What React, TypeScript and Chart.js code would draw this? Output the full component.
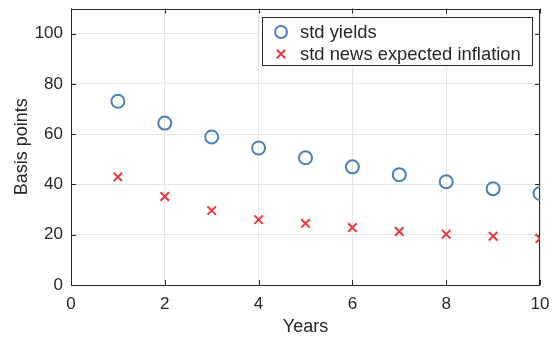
import React, { useEffect, useRef } from 'react';
import { Chart, registerables } from 'chart.js';

Chart.register(...registerables);

const years = [1, 2, 3, 4, 5, 6, 7, 8, 9, 10];
const stdYields = [73.1, 64.4, 58.9, 54.5, 50.6, 47.0, 43.9, 41.1, 38.3, 36.4];
const stdNewsInflation = [43.0, 35.2, 29.6, 26.0, 24.5, 22.9, 21.3, 20.2, 19.4, 18.5];
const xTicks = [0, 2, 4, 6, 8, 10];
const yTicks = [0, 20, 40, 60, 80, 100];
const seriesLabels = ['std yields', 'std news expected inflation'];
const axisLabels = { x: 'Years', y: 'Basis points' };

const FONT = "'Liberation Sans', Arial, Helvetica, sans-serif";
const TEXT = '#262626';
const BLUE = '#4A80B5';
const RED = '#E8383F';

const framePlugin = {
  id: 'frame',
  beforeDatasetsDraw(chart: any) {
    const { ctx, chartArea: a, scales } = chart;
    ctx.save();
    ctx.strokeStyle = TEXT;
    ctx.lineWidth = 1;
    ctx.strokeRect(Math.round(a.left) + 0.5, Math.round(a.top) + 0.5, Math.round(a.right - a.left) - 1, Math.round(a.bottom - a.top) - 1);
    const tl = 5;
    ctx.beginPath();
    xTicks.forEach((v) => {
      const px = Math.round(scales.x.getPixelForValue(v)) + 0.5;
      ctx.moveTo(px, a.bottom);
      ctx.lineTo(px, a.bottom - tl);
      ctx.moveTo(px, a.top);
      ctx.lineTo(px, a.top + tl);
    });
    yTicks.forEach((v) => {
      const py = Math.round(scales.y.getPixelForValue(v)) + 0.5;
      ctx.moveTo(a.left, py);
      ctx.lineTo(a.left + tl, py);
      ctx.moveTo(a.right, py);
      ctx.lineTo(a.right - tl, py);
    });
    ctx.stroke();
    ctx.restore();
  },
};

const legendPlugin = {
  id: 'boxLegend',
  afterDraw(chart: any) {
    const { ctx, chartArea: a } = chart;
    ctx.save();
    ctx.font = `18.4px ${FONT}`;
    const widths = chart.data.datasets.map((d: any) => ctx.measureText(d.label).width);
    const textW = Math.max(...widths);
    const markerPad = 19;
    const boxW = markerPad * 2 + textW + 11;
    const boxH = 48;
    const right = Math.round(a.right) - 8;
    const left = right - Math.round(boxW);
    const top = Math.round(a.top) + 8;
    ctx.fillStyle = '#ffffff';
    ctx.fillRect(left, top, right - left, boxH);
    ctx.strokeStyle = TEXT;
    ctx.lineWidth = 1;
    ctx.strokeRect(left + 0.5, top + 0.5, right - left, boxH);
    const rows = [top + 15, top + 37];
    chart.data.datasets.forEach((d: any, i: number) => {
      const mx = left + markerPad;
      const my = rows[i];
      ctx.strokeStyle = d.borderColor;
      ctx.lineWidth = d.borderWidth;
      ctx.beginPath();
      if (d.pointStyle === 'circle') {
        ctx.arc(mx, my, 6, 0, Math.PI * 2);
      } else {
        const r = 4.2;
        ctx.moveTo(mx - r, my - r);
        ctx.lineTo(mx + r, my + r);
        ctx.moveTo(mx - r, my + r);
        ctx.lineTo(mx + r, my - r);
      }
      ctx.stroke();
      ctx.fillStyle = TEXT;
      ctx.textBaseline = 'middle';
      ctx.textAlign = 'left';
      ctx.fillText(d.label, mx + markerPad, my + 1);
    });
    ctx.restore();
  },
};

export default function App() {
  const ref = useRef<HTMLCanvasElement>(null);
  useEffect(() => {
    if (!ref.current) return;
    const chart = new Chart(ref.current, {
      type: 'scatter',
      data: {
        datasets: [
          {
            label: seriesLabels[0],
            data: years.map((x, i) => ({ x, y: stdYields[i] })),
            pointStyle: 'circle',
            pointRadius: 6.5,
            borderColor: BLUE,
            backgroundColor: 'rgba(0,0,0,0)',
            borderWidth: 2,
          },
          {
            label: seriesLabels[1],
            data: years.map((x, i) => ({ x, y: stdNewsInflation[i] })),
            pointStyle: 'crossRot',
            pointRadius: 6,
            borderColor: RED,
            backgroundColor: RED,
            borderWidth: 2,
          },
        ],
      },
      options: {
        responsive: false,
        animation: false,
        layout: { padding: { left: 0, top: 7, right: 14, bottom: 0 } },
        plugins: { legend: { display: false }, tooltip: { enabled: false } },
        scales: {
          x: {
            type: 'linear',
            min: 0,
            max: 10,
            afterFit: (s: any) => { s.height = 56; s.paddingLeft = 0; s.paddingRight = 0; s.paddingTop = 0; s.paddingBottom = 0; },
            afterBuildTicks: (s: any) => { s.ticks = xTicks.map((v) => ({ value: v })); },
            ticks: { stepSize: 2, padding: 9, color: TEXT, font: { family: FONT, size: 17 }, maxRotation: 0 },
            grid: { color: '#e4e4e4', drawTicks: false, lineWidth: 1 },
            border: { display: false },
            title: { display: true, text: axisLabels.x, color: TEXT, font: { family: FONT, size: 18 }, padding: { top: 0, bottom: 3 } },
          },
          y: {
            type: 'linear',
            min: 0,
            max: 110,
            afterFit: (s: any) => { s.width = 71; s.paddingLeft = 0; s.paddingRight = 0; s.paddingTop = 0; s.paddingBottom = 0; },
            afterBuildTicks: (s: any) => { s.ticks = yTicks.map((v) => ({ value: v })); },
            ticks: { stepSize: 20, padding: 8, color: TEXT, font: { family: FONT, size: 17 } },
            grid: { color: '#e4e4e4', drawTicks: false, lineWidth: 1 },
            border: { display: false },
            title: { display: true, text: axisLabels.y, color: TEXT, font: { family: FONT, size: 18 }, padding: { top: 11, bottom: 0 } },
          },
        },
      },
      plugins: [framePlugin, legendPlugin],
    });
    return () => chart.destroy();
  }, []);
  return (
    <div style={{ position: 'absolute', left: 0, top: 0, width: 554, height: 341, background: '#fff' }}>
      <canvas ref={ref} width={554} height={341} />
    </div>
  );
}
